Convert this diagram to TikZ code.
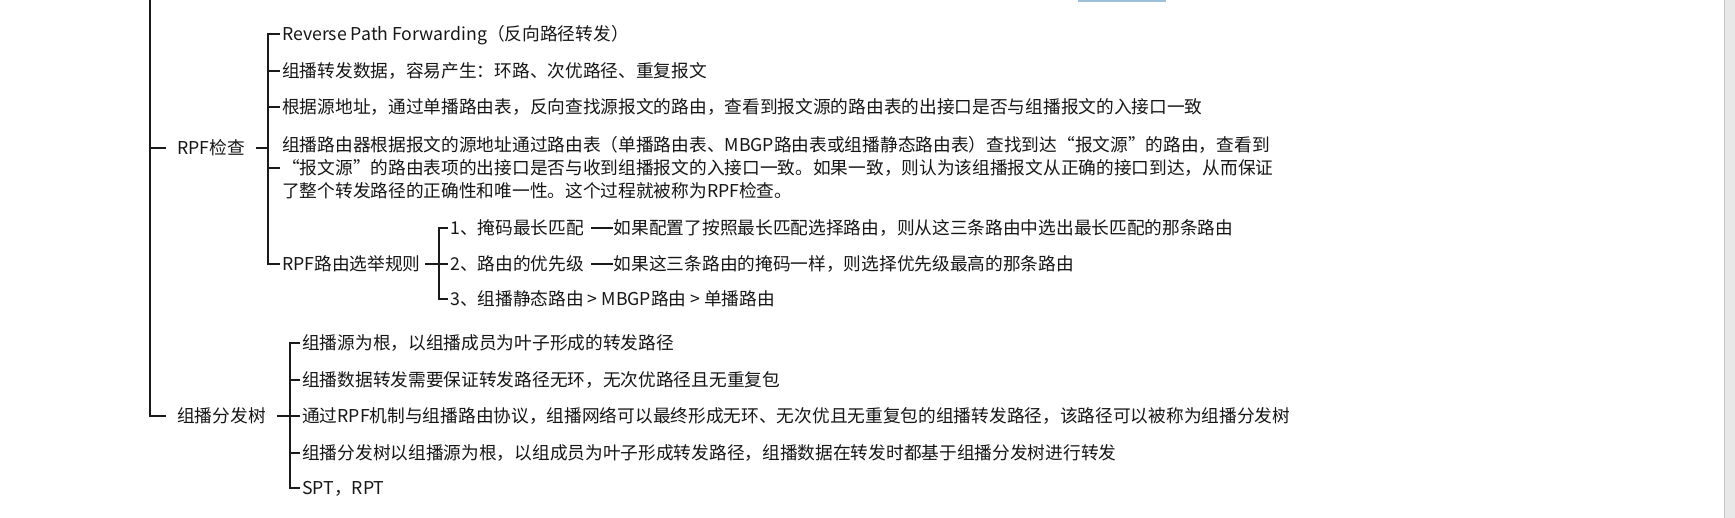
\documentclass[tikz,border=0pt]{standalone}
\usepackage{fontspec}
\setmainfont{Noto Sans CJK SC}
\usepackage{xcolor}
\usepackage{tikz}
\usetikzlibrary{positioning}

\definecolor{inkgray}{HTML}{161616}
\definecolor{linegray}{HTML}{1A1A1A}
\definecolor{selblue}{HTML}{9DBFD8}

\begin{document}
\begin{tikzpicture}[x=1pt,y=-1pt,
  font=\fontsize{17.7pt}{23pt}\selectfont,
  leaf/.style={inner xsep=2pt,inner ysep=0pt,anchor=west,text=inkgray,text height=15.9pt,text depth=2.5pt},
  para/.style={inner xsep=2pt,inner ysep=0pt,anchor=west,text=inkgray,align=left},
  topic/.style={inner xsep=11pt,inner ysep=0pt,anchor=west,text=inkgray,text height=15.9pt,text depth=2.5pt},
  memo/.style={leaf,inner xsep=0.5pt},
  branch/.style={draw=linegray,line width=1.8pt}
]
\useasboundingbox (0,0) rectangle (1735,518);

% page edge
\fill[selblue] (1078,0) rectangle (1166,2);
\fill[gray!18] (1724,0) rectangle (1735,518);
\draw[gray!45] (1724.5,0) -- (1724.5,518);

% Topics
\coordinate (top) at (150,0);
\node[topic] (rpf) at (166,148) {RPF检查};
\node[topic] (tree) at (166,416) {组播分发树};

% RPF check
\node[leaf] (rpfA) at (280,34) {Reverse Path Forwarding（反向路径转发）};
\node[leaf] (rpfB) at (280,71) {组播转发数据，容易产生：环路、次优路径、重复报文};
\node[leaf] (rpfC) at (280,107) {根据源地址，通过单播路由表，反向查找源报文的路由，查看到报文源的路由表的出接口是否与组播报文的入接口一致};
\node[para] (rpfD) at (280,168) {组播路由器根据报文的源地址通过路由表（单播路由表、MBGP路由表或组播静态路由表）查找到达“报文源”的路由，查看到\\“报文源”的路由表项的出接口是否与收到组播报文的入接口一致。如果一致，则认为该组播报文从正确的接口到达，从而保证\\了整个转发路径的正确性和唯一性。这个过程就被称为RPF检查。};
\node[leaf] (rpfE) at (280,264) {RPF路由选举规则};

% RPF route election
\node[leaf] (ruleA) at (448,228) {1、掩码最长匹配};
\node[leaf] (ruleB) at (448,264) {2、路由的优先级};
\node[leaf] (ruleC) at (448,299) {3、组播静态路由 > MBGP路由 > 单播路由};
\node[memo,right=27pt of ruleA] (noteA) {如果配置了按照最长匹配选择路由，则从这三条路由中选出最长匹配的那条路由};
\node[memo,right=27pt of ruleB] (noteB) {如果这三条路由的掩码一样，则选择优先级最高的那条路由};

% Distribution tree
\node[leaf] (treeA) at (300,343) {组播源为根，以组播成员为叶子形成的转发路径};
\node[leaf] (treeB) at (300,380) {组播数据转发需要保证转发路径无环，无次优路径且无重复包};
\node[leaf] (treeC) at (300,416) {通过RPF机制与组播路由协议，组播网络可以最终形成无环、无次优且无重复包的组播转发路径，该路径可以被称为组播分发树};
\node[leaf] (treeD) at (300,453) {组播分发树以组播源为根，以组成员为叶子形成转发路径，组播数据在转发时都基于组播分发树进行转发};
\node[leaf] (treeE) at (300,488) {SPT，RPT};

% Trunk
\draw[branch] (top) |- (tree.west);
\draw[branch] (top |- rpf.west) -- (rpf.west);

% RPF check bracket
\coordinate (rpfbar) at (268,0);
\draw[branch] (rpf.east) -- (rpf.east -| rpfbar);
\draw[branch] (rpfA.west) -| (rpfbar |- rpfE.west) -- (rpfE.west);
\draw[branch] (rpfB.west) -- (rpfB.west -| rpfbar);
\draw[branch] (rpfC.west) -- (rpfC.west -| rpfbar);
\draw[branch] (rpfD.west) -- (rpfD.west -| rpfbar);

% Election bracket
\coordinate (rulebar) at (439,0);
\draw[branch,shorten <=2pt] (rpfE.east) -- (ruleB.west);
\draw[branch] (ruleA.west) -| (rulebar |- ruleC.west) -- (ruleC.west);
\draw[branch,shorten <=5pt] (ruleA.east) -- (noteA.west);
\draw[branch,shorten <=5pt] (ruleB.east) -- (noteB.west);

% Tree bracket
\coordinate (treebar) at (290,0);
\draw[branch] (tree.east) -- (treeC.west);
\draw[branch] (treeA.west) -| (treebar |- treeE.west) -- (treeE.west);
\draw[branch] (treeB.west) -- (treeB.west -| treebar);
\draw[branch] (treeD.west) -- (treeD.west -| treebar);

\end{tikzpicture}
\end{document}
